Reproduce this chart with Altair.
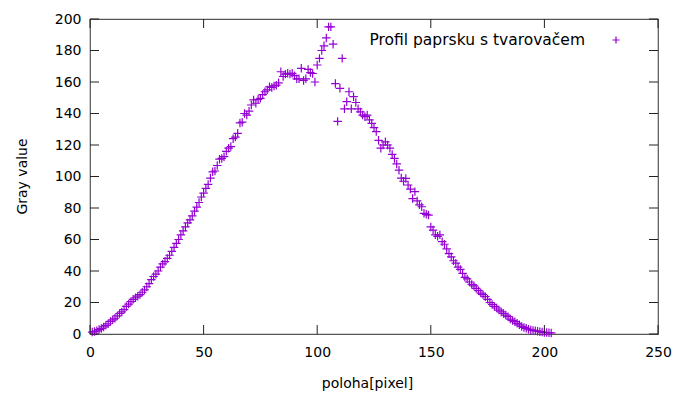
import altair as alt
import pandas as pd

# Beam profile: gray value sampled at each pixel position (pixels 1..203)
gray_value = [
    1.2, 1.6, 2.0, 2.8, 3.5, 4.5, 5.5, 6.5, 8.0, 9.0,            # 1-10
    10.0, 11.5, 13.0, 14.0, 15.5, 17.5, 19.0, 20.5, 22.0, 23.0,  # 11-20
    24.0, 25.0, 26.5, 28.0, 30.0, 32.0, 34.5, 36.5, 38.0, 40.0,  # 21-30
    42.5, 44.5, 46.0, 48.0, 50.0, 52.5, 55.0, 57.5, 60.0, 63.0,  # 31-40
    65.5, 68.0, 70.5, 72.5, 75.0, 78.0, 80.5, 83.5, 87.0, 89.5,  # 41-50
    92.5, 95.0, 99.0, 103.0, 103.5, 107.0, 111.0, 111.5, 112.6, 116.0,  # 51-60
    118.0, 119.0, 124.0, 125.0, 127.4, 134.0, 134.5, 140.0, 139.0, 141.5,  # 61-70
    145.4, 148.6, 146.5, 149.0, 149.6, 152.0, 153.8, 155.0, 157.0, 156.5,  # 71-80
    157.5, 158.0, 159.5, 166.5, 163.5, 165.0, 165.5, 165.0, 165.5, 164.0,  # 81-90
    162.0, 162.0, 168.7, 161.0, 162.0, 168.0, 166.0, 165.4, 160.0, 170.8,  # 91-100
    175.0, 180.0, 183.0, 188.0, 195.0, 195.0, 184.0, 159.0, 135.0, 156.0,  # 101-110
    175.0, 143.0, 147.5, 153.8, 143.0, 150.7, 147.0, 143.0, 141.0, 139.0,  # 111-120
    138.0, 139.0, 136.0, 133.7, 131.0, 128.5, 123.0, 118.0, 120.0, 122.0,  # 121-130
    120.0, 118.0, 114.0, 111.5, 108.0, 104.0, 99.0, 97.0, 98.8, 94.6,     # 131-140
    92.0, 86.0, 90.4, 84.5, 82.0, 80.8, 76.6, 76.0, 75.5, 68.0,           # 141-150
    66.0, 63.0, 62.0, 63.0, 58.6, 57.0, 54.0, 51.0, 49.0, 46.5,           # 151-160
    45.0, 42.5, 41.0, 38.5, 36.0, 35.0, 33.0, 31.5, 30.5, 29.0,           # 161-170
    27.5, 26.0, 25.0, 23.7, 22.0, 20.0, 18.8, 17.5, 16.5, 15.2,           # 171-180
    14.0, 13.0, 12.0, 11.0, 9.5, 8.5, 7.8, 6.8, 5.8, 4.8,                 # 181-190
    4.2, 3.6, 3.0, 2.6, 2.3, 2.0, 1.8, 1.5, 1.2, 1.0,                     # 191-200
    0.9, 0.8, 0.7,                                                        # 201-203
]
pixel = list(range(1, len(gray_value) + 1))

x_ticks = [0, 50, 100, 150, 200, 250]
y_ticks = [0, 20, 40, 60, 80, 100, 120, 140, 160, 180, 200]
series_label = "Profil paprsku s tvarovačem"

W, H = 568, 315
FONT = "DejaVu Sans"
PURPLE = "#9400D3"
PLUS = "M-1,0L1,0M0,-1L0,1"
TICK = 9

df = pd.DataFrame({"poloha": pixel, "gray": gray_value})
xt = pd.DataFrame({"v": x_ticks})
yt = pd.DataFrame({"v": y_ticks})
leg = pd.DataFrame({"label": [series_label]})

xscale = alt.Scale(domain=[0, 250], nice=False, zero=False)
yscale = alt.Scale(domain=[0, 200], nice=False, zero=False)

# one shared axis definition per direction, used by every layer
x_axis = alt.Axis(values=x_ticks, title="poloha[pixel]", grid=False,
                  domain=False, ticks=False, labelPadding=11,
                  labelFlush=False, labelOverlap=False,
                  labelFont=FONT, labelFontSize=14, labelColor="#000",
                  titleFont=FONT, titleFontSize=14, titleFontWeight="normal",
                  titleColor="#000", titleX=277, titleY=49,
                  titleBaseline="middle", titleAlign="center")
y_axis = alt.Axis(values=y_ticks, title="Gray value", grid=False,
                  domain=False, ticks=False, labelPadding=9,
                  labelFlush=False, labelOverlap=False,
                  labelFont=FONT, labelFontSize=14, labelColor="#000",
                  titleFont=FONT, titleFontSize=14, titleFontWeight="normal",
                  titleColor="#000", titleX=-68, titleY=157,
                  titleAngle=270, titleBaseline="middle",
                  titleAlign="center")

points = alt.Chart(df).mark_point(
    shape=PLUS, filled=False, color=PURPLE, strokeWidth=1.2, size=72, opacity=1
).encode(
    x=alt.X("poloha:Q", scale=xscale, axis=x_axis),
    y=alt.Y("gray:Q", scale=yscale, axis=y_axis),
)

# inward tick marks on all four sides (mirrored like the border)
tick_style = dict(color="#222", strokeWidth=1)
y_left = alt.Chart(yt).mark_rule(**tick_style).encode(
    y=alt.Y("v:Q", scale=yscale, axis=y_axis, title="Gray value"),
    x=alt.value(0), x2=alt.value(TICK))
y_right = alt.Chart(yt).mark_rule(**tick_style).encode(
    y=alt.Y("v:Q", scale=yscale, axis=y_axis, title="Gray value"),
    x=alt.value(W - TICK), x2=alt.value(W))
x_bottom = alt.Chart(xt).mark_rule(**tick_style).encode(
    x=alt.X("v:Q", scale=xscale, axis=x_axis, title="poloha[pixel]"),
    y=alt.value(H), y2=alt.value(H - TICK))
x_top = alt.Chart(xt).mark_rule(**tick_style).encode(
    x=alt.X("v:Q", scale=xscale, axis=x_axis, title="poloha[pixel]"),
    y=alt.value(0), y2=alt.value(TICK))

# key: label text followed by the sample symbol
key_text = alt.Chart(leg).mark_text(
    font=FONT, fontSize=15.5, color="#000", align="right", baseline="middle"
).encode(text="label:N", x=alt.value(495), y=alt.value(21))
key_symbol = alt.Chart(leg).mark_point(
    shape=PLUS, filled=False, color=PURPLE, strokeWidth=1.2, size=49, opacity=1
).encode(x=alt.value(526), y=alt.value(21))

chart = alt.layer(
    points, y_left, y_right, x_bottom, x_top, key_text, key_symbol
).properties(
    width=W, height=H,
    padding={"left": 90, "top": 19, "right": 36, "bottom": 69},
    autosize=alt.AutoSizeParams(type="none"),
    background="white",
).configure_view(
    stroke="#555", strokeWidth=1.2
)

chart.save("out.html", embed_options={"renderer": "svg", "actions": False})
